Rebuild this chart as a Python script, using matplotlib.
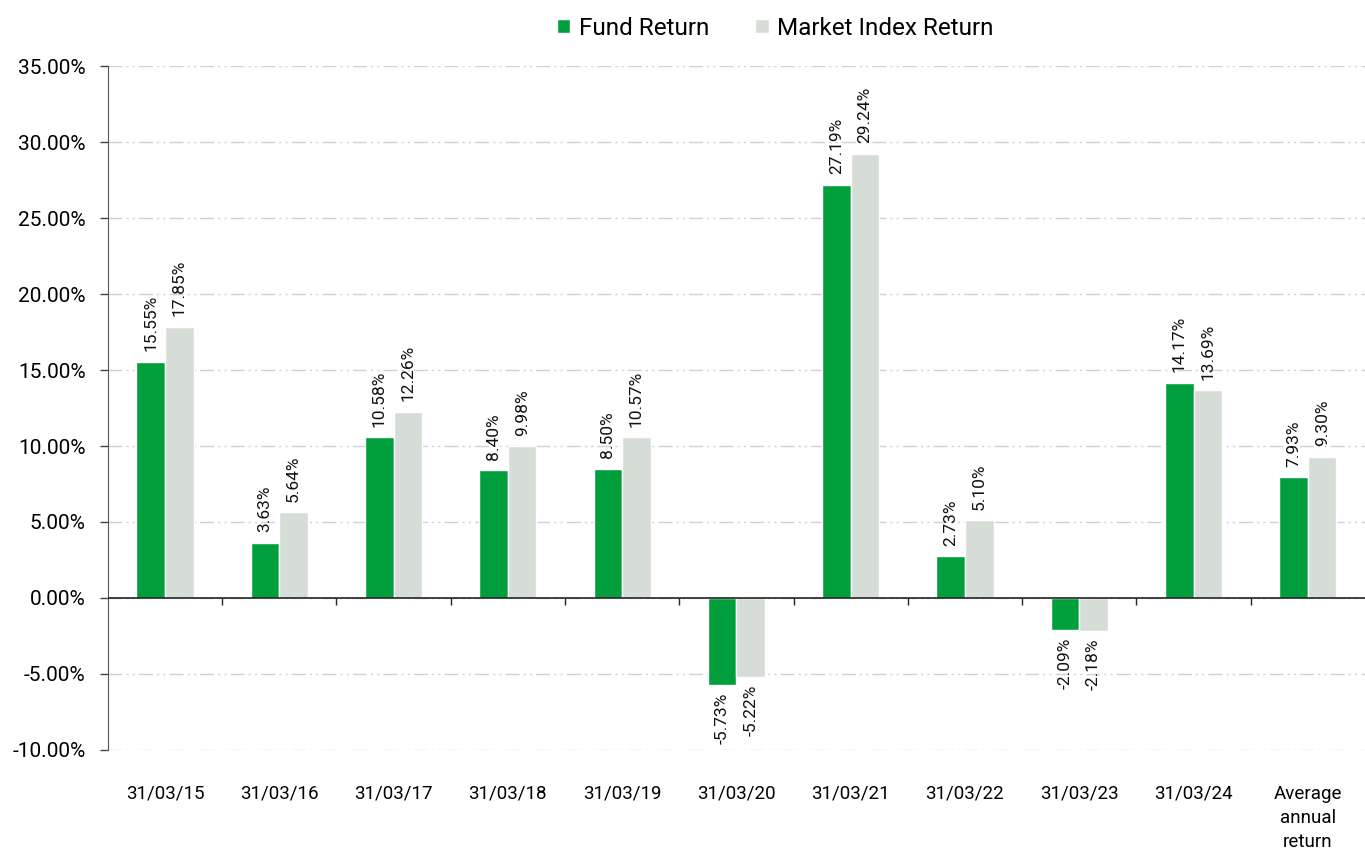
import numpy as np
import matplotlib.pyplot as plt

categories = ['31/03/15', '31/03/16', '31/03/17', '31/03/18', '31/03/19', '31/03/20',
              '31/03/21', '31/03/22', '31/03/23', '31/03/24', 'Average\nannual\nreturn']
fund = [15.55, 3.63, 10.58, 8.40, 8.50, -5.73, 27.19, 2.73, -2.09, 14.17, 7.93]
market = [17.85, 5.64, 12.26, 9.98, 10.57, -5.22, 29.24, 5.10, -2.18, 13.69, 9.30]

plt.rcParams['font.family'] = ['Roboto', 'DejaVu Sans']

fig = plt.figure(figsize=(13.65, 8.59), dpi=100)
ax = fig.add_axes([0.079, 0.127, 0.921, 0.796])

x = np.arange(len(categories))
w = 0.25
green = '#009E3D'
grey = '#D6DDD7'

b1 = ax.bar(x - w / 2, fund, w, color=green, edgecolor='white', linewidth=1, label='Fund Return', zorder=3)
b2 = ax.bar(x + w / 2, market, w, color=grey, edgecolor='white', linewidth=1, label='Market Index Return', zorder=3)

for bars, vals in [(b1, fund), (b2, market)]:
    for rect, v in zip(bars, vals):
        cx = rect.get_x() + rect.get_width() / 2
        if v >= 0:
            ax.annotate(f'{v:.2f}%', (cx, v), xytext=(0, 7.5), textcoords='offset points',
                        rotation=90, ha='center', va='bottom', fontsize=12.5, color='#111111')
        else:
            ax.annotate(f'{v:.2f}%', (cx, v), xytext=(0, -5.5), textcoords='offset points',
                        rotation=90, ha='center', va='top', fontsize=12.5, color='#111111')

ax.set_ylim(-10, 35)
ax.set_xlim(-0.5, len(categories) - 0.5)
ax.set_yticks(np.arange(-10, 36, 5))
ax.set_yticklabels([f'{t:.2f}%' for t in np.arange(-10, 36, 5)], fontsize=15)
ax.set_xticks(x)
ax.set_xticklabels(categories, fontsize=13.5, linespacing=1.45, va='top')
ax.tick_params(axis='x', length=0, pad=25)
ax.tick_params(axis='y', length=6, color='#444444', width=1, pad=10)

ax.yaxis.grid(True, color='#CDD0E0', linewidth=1, dashes=(10, 3, 1.5, 3, 1.5, 3), zorder=0)
for s in ['top', 'right', 'bottom']:
    ax.spines[s].set_visible(False)
ax.spines['left'].set_color('#555555')

ax.axhline(0, color='#222222', linewidth=1.2, zorder=4)
bounds = np.arange(len(categories) + 1) - 0.5
ax.vlines(bounds[1:-1], -0.45, 0, color='#222222', linewidth=1, zorder=4)

fig.legend(handles=[b1, b2], loc='upper center', bbox_to_anchor=(0.568, 1.006), ncol=2,
           frameon=False, fontsize=17.5, handlelength=0.55, handleheight=0.55,
           handletextpad=0.35, columnspacing=1.9)

fig.savefig('out.png', dpi=100)
